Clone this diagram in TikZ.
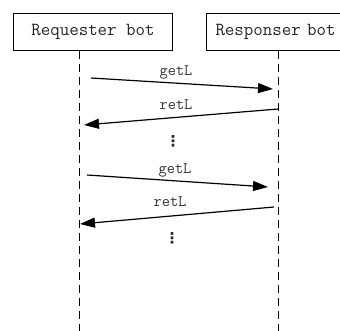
\documentclass[tikz,border=0pt]{standalone}
\usepackage{fontspec}
\newfontfamily\symbolfont{DejaVu Sans}
\usetikzlibrary{arrows.meta}
\begin{document}
\begin{tikzpicture}[x=1bp,y=-1bp,
  actor/.style={draw, line width=1bp, minimum height=37bp, inner ysep=0pt,
    font=\ttfamily\fontsize{18.5}{22}\selectfont, text=black!85},
  lifeline/.style={line width=1bp, dash pattern=on 8bp off 5bp},
  msg/.style={line width=1.2bp, -{Triangle[length=15bp,width=10bp]}},
  lbl/.style={font=\ttfamily\fontsize{16}{19}\selectfont, text=black!80, inner sep=1bp},
  more/.style={font=\symbolfont\bfseries\fontsize{15}{18}\selectfont, text=black!85, inner sep=0pt}]
  \useasboundingbox (0,0) rectangle (340,331);
  \fill[white] (0,0) rectangle (340,331);

  % participants
  \node[actor, minimum width=158bp] (req) at (93,31.5) {Requester bot};
  \node[actor, anchor=west, text width=140bp, inner xsep=9bp, align=left] (resp) at (206,31.5) {Responser bot};

  % lifelines
  \coordinate (reqend) at (79,331);
  \coordinate (respend) at (278,331);
  \draw[lifeline] (req.south -| reqend) -- (reqend);
  \draw[lifeline] (resp.south -| respend) -- (respend);

  % message end points
  \coordinate (g1s) at (91,78);   \coordinate (g1e) at (273,89);
  \coordinate (r1s) at (278,109); \coordinate (r1e) at (84,125);
  \coordinate (g2s) at (87,175);  \coordinate (g2e) at (268,187);
  \coordinate (r2s) at (274,207); \coordinate (r2e) at (80,224);

  % messages
  \draw[msg] (g1s) -- (g1e);
  \node[lbl] (g1l) at (176,72) {getL};
  \draw[msg] (r1s) -- (r1e);
  \node[lbl] (r1l) at (176,105) {retL};
  \draw[msg] (g2s) -- (g2e);
  \node[lbl] (g2l) at (175,170) {getL};
  \draw[msg] (r2s) -- (r2e);
  \node[lbl] (r2l) at (170,202) {retL};

  % continuation marks
  \node[more] (m1) at (173,141) {⋮};
  \node[more] (m2) at (172,238) {⋮};
\end{tikzpicture}
\end{document}
